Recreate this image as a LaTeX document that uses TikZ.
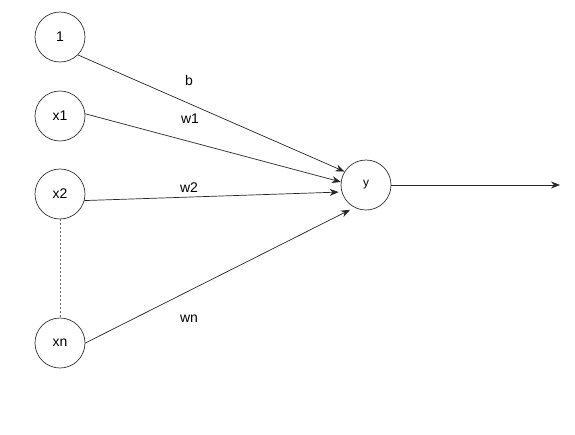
\documentclass[tikz,border=0pt]{standalone}
\usepackage{fontspec}
\setmainfont{Liberation Sans}
\usepackage{tikz}
\usetikzlibrary{arrows.meta}

\begin{document}
\begin{tikzpicture}[
		x=1pt, y=-1pt,
		>={Stealth[length=9pt,width=7pt]},
		unit/.style={
			draw=black!80,
			circle,
			line width=0.7pt,
			minimum size=50pt,
			inner sep=0pt,
			font=\fontsize{14}{16}\selectfont
		},
		weight/.style={
			font=\fontsize{14}{16}\selectfont
		},
		arrow/.style={
			->,
			line width=0.7pt,
			draw=black!85
		}
	]
	
	\useasboundingbox (0,0) rectangle (575,434);
	
	% Input units
	\node[unit] (one) at (60,37) {1};
	\node[unit] (x1) at (60,116) {x1};
	\node[unit] (x2) at (60,194) {x2};
	\node[unit] (xn) at (60,343) {xn};
	
	% Output unit
	\node[unit, font=\fontsize{12}{14}\selectfont] (y) at (366,185) {y};
	\coordinate (out) at (560,185);
	
	% Weights
	\node[weight] (b) at (189,80) {b};
	\node[weight] (w1) at (190,119) {w1};
	\node[weight] (w2) at (189,188) {w2};
	\node[weight] (wn) at (189,319) {wn};
	
	% Arrows from inputs to y
	\draw[arrow] (one.-45) -- (y.148);
	\draw[arrow] (x1.5) -- (y.173);
	\draw[arrow, shorten >=3pt] (x2.-15) -- (y.196);
	\draw[arrow, shorten >=5pt] (xn.east) -- (y.243);
	
	% Skipped inputs
	\draw[dash pattern=on 2pt off 2pt, line width=0.7pt, draw=black!60] (x2.south) -- (xn.north);
	
	% Output
	\draw[arrow] (y.east) -- (out);
	
\end{tikzpicture}
\end{document}
